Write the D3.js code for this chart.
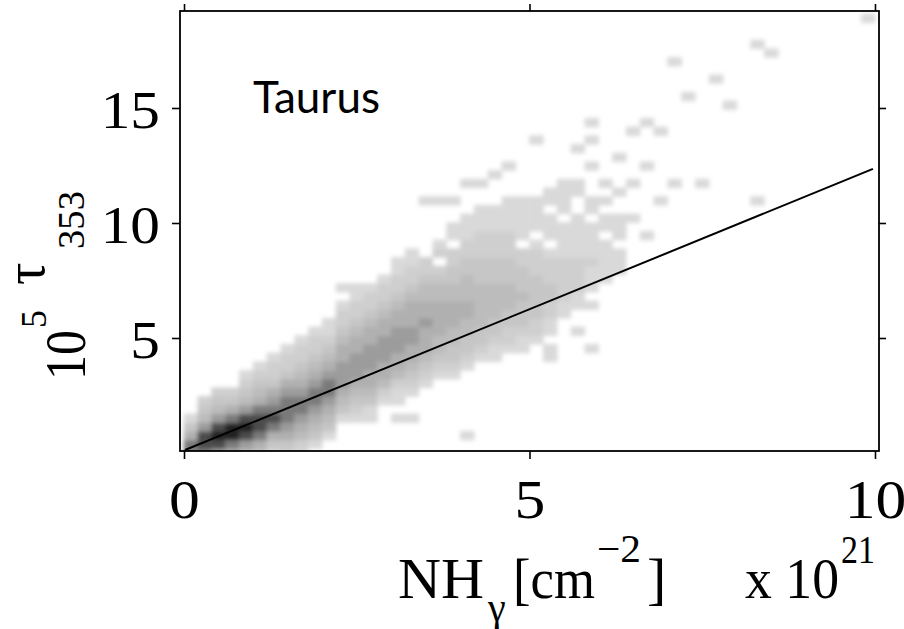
<!DOCTYPE html>
<html><head><meta charset="utf-8">
<script src="https://cdn.jsdelivr.net/npm/d3@7"></script>
<style>body{margin:0;background:#fff}</style>
</head><body>
<svg id="chart" width="904" height="629"></svg>
<script>
// ---------------- data ----------------
const xTicks = [0, 5, 10];
const yTicks = [5, 10, 15];
const xBinWidth = 0.2;      // NH bin width (x 10^21 cm^-2)
const yBinHeight = 0.378;   // tau bin height (x 10^-5)
// density band per x-bin: first y-bin index and gray level (1 light .. 9 dark) of each y-bin upward
const bandStartRow = [0,0,0,0,0,0,0,0,0,1,2,4,4,4,6,4,4,8,9,9,10,11,11,12,12,13,14,16,17,19,20,21];
const bandLevels = [
  "77531",
  "7886432",
  "68986432",
  "57997532",
  "4689864321",
  "35788754321",
  "135787653221",
  "2356777653221",
  "12456776543221",
  "13456776543221",
  "13456776543211",
  "1345666554322101",
  "1234566655432211",
  "1134556665543221",
  "124556665543221",
  "1011245566655432211",
  "10012345566555432211",
  "123455565544322",
  "1234455554432021",
  "123344555443322011",
  "123344554443322111",
  "123344444333222111",
  "112334444333222111",
  "122334443332221111",
  "112333433322011111",
  "12233333222101111",
  "11223322210111011",
  "1122222111101111",
  "112222111110011",
  "11121111011",
  "111110110101",
  "1110111001"
];
// sparse outlying bins: [x-bin, y-bin, level]
const isolatedCells = [
  [17,29,1],[18,29,1],[19,29,1],[20,2,1],[20,31,1],[21,31,1],[22,32,1],[23,33,1],
  [25,36,1],[26,11,1],[26,12,1],[28,14,1],[28,35,1],
  [29,12,1],[29,17,1],[29,33,1],[29,36,1],[29,38,1],[31,34,1],
  [32,27,1],[32,31,1],[32,37,1],[33,25,1],[33,33,1],[33,38,1],
  [34,29,1],[34,37,1],[35,31,1],[35,45,1],[36,41,1],[37,31,1],[38,43,1],
  [39,40,1],[41,29,1],[41,47,1],[42,46,1],[49,50,1]
];
const grayLevels = ["#ffffff","#d9d9d9","#cfcfcf","#c6c6c6","#bcbcbc","#b0b0b0","#9c9c9c","#7a7a7a","#4c4c4c","#202020"];
const fitLineX = [0.014, 9.97];
const fitLineY = [0.13, 12.35];
const panelLabel = "Taurus";

// ---------------- layout ----------------
const svg = d3.select("#chart");
const m = {left: 180, right: 879, top: 11, bottom: 451};
const x = d3.scaleLinear().domain([-0.058, 10.058]).range([m.left, m.right]);
const y = d3.scaleLinear().domain([0.087, 19.217]).range([m.bottom, m.top]);
const SERIF = "'Liberation Serif','Times New Roman',serif";

const defs = svg.append("defs");
defs.append("clipPath").attr("id", "plotclip").append("rect")
  .attr("x", m.left).attr("y", m.top).attr("width", m.right - m.left).attr("height", m.bottom - m.top);
defs.append("filter").attr("id", "soft").attr("x", "-5%").attr("y", "-5%").attr("width", "110%").attr("height", "110%")
  .append("feGaussianBlur").attr("stdDeviation", 2.1);

// cells
const cells = [];
bandLevels.forEach((s, c) => {
  for (let i = 0; i < s.length; i++) {
    const lv = +s[i];
    if (lv > 0) cells.push({c, r: bandStartRow[c] + i, lv});
  }
});
isolatedCells.forEach(([c, r, lv]) => cells.push({c, r, lv}));

const plotG = svg.append("g").attr("clip-path", "url(#plotclip)");
plotG.append("g").attr("filter", "url(#soft)")
  .selectAll("rect").data(cells).join("rect")
  .attr("x", d => x(d.c * xBinWidth) - 0.3)
  .attr("y", d => y((d.r + 0.5) * yBinHeight) - 0.3)
  .attr("width", d => x((d.c + 1) * xBinWidth) - x(d.c * xBinWidth) + 0.6)
  .attr("height", d => y((d.r - 0.5) * yBinHeight) - y((d.r + 0.5) * yBinHeight) + 0.6)
  .attr("fill", d => grayLevels[d.lv]);

// fit line
plotG.append("path")
  .datum(fitLineX.map((v, i) => [v, fitLineY[i]]))
  .attr("d", d3.line().x(d => x(d[0])).y(d => y(d[1])))
  .attr("fill", "none").attr("stroke", "#000").attr("stroke-width", 2);

// axes
function styleAxis(g) {
  g.select(".domain").remove();
  g.selectAll(".tick line").attr("stroke", "#000").attr("stroke-width", 1.6);
}
svg.append("g").attr("transform", `translate(0,${m.bottom})`)
  .call(d3.axisBottom(x).tickValues(xTicks).tickSize(8).tickFormat(d3.format("d")))
  .call(styleAxis)
  .call(g => g.selectAll(".tick text")
    .attr("y", 67).attr("dy", 0)
    .attr("transform", "scale(1.12,1)")
    .attr("font-family", SERIF).attr("font-size", 55).attr("fill", "#000"));
svg.append("g").attr("transform", `translate(0,${m.top})`)
  .call(d3.axisTop(x).tickValues(xTicks).tickSize(7).tickFormat(""))
  .call(styleAxis);
svg.append("g").attr("transform", `translate(${m.left},0)`)
  .call(d3.axisLeft(y).tickValues(yTicks).tickSize(8).tickFormat(d3.format("d")))
  .call(styleAxis)
  .call(g => g.selectAll(".tick text")
    .attr("x", -20 / 1.12).attr("dy", 0).attr("y", 19)
    .attr("transform", "scale(1.12,1)")
    .attr("font-family", SERIF).attr("font-size", 53).attr("fill", "#000"));
svg.append("g").attr("transform", `translate(${m.right},0)`)
  .call(d3.axisRight(y).tickValues(yTicks).tickSize(7).tickFormat(""))
  .call(styleAxis);

// frame
svg.append("rect").attr("x", m.left).attr("y", m.top)
  .attr("width", m.right - m.left).attr("height", m.bottom - m.top)
  .attr("fill", "none").attr("stroke", "#000").attr("stroke-width", 1.8);

// panel label
svg.append("text").attr("x", 253).attr("y", 113)
  .attr("font-family", "Lato, 'Open Sans', sans-serif").attr("font-size", 44).attr("fill", "#000")
  .text(panelLabel);

// titles
function put(str, px, py, size, rot, len) {
  const t = svg.append("text")
    .attr("transform", rot ? `translate(${px},${py}) rotate(-90)` : `translate(${px},${py})`)
    .attr("font-family", SERIF).attr("font-size", size).attr("fill", "#000").text(str);
  if (len) t.attr("textLength", len).attr("lengthAdjust", "spacingAndGlyphs");
  return t;
}
put("NH", 398, 598, 58, false, 86);
put("γ", 488, 621, 40);
put("[cm", 513, 598, 58, false, 82);
put("−2", 597, 562, 40, false, 44);
put("]", 647, 598, 58);
put("x 10", 745, 598, 58, false, 94);
put("21", 841, 563, 40, false, 34);

// y title (rotated)
put("10", 85, 380, 56, true, 50);
put("5", 46, 328, 36, true);
put("τ", 44, 285, 56, true);
put("353", 84, 249, 38, true, 58);
</script>
</body></html>
